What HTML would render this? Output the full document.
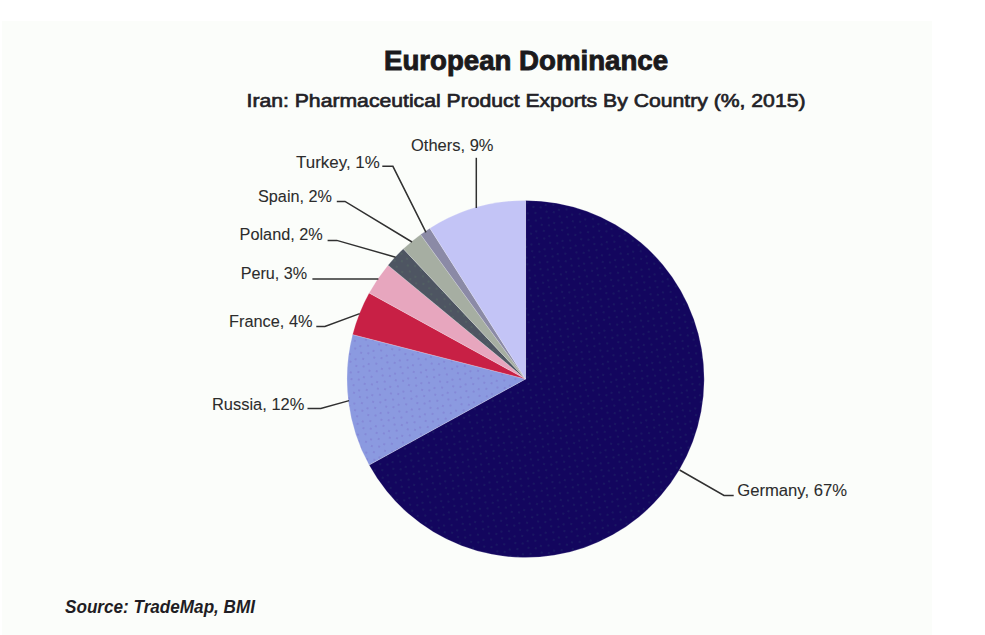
<!DOCTYPE html>
<html><head><meta charset="utf-8"><style>
html,body{margin:0;padding:0;background:#fff;}
body{width:985px;height:635px;overflow:hidden;position:relative;}
svg{position:absolute;left:0;top:0;}
</style></head><body>
<svg width="985" height="635" viewBox="0 0 985 635">
<rect x="0" y="0" width="985" height="635" fill="#ffffff"/>
<rect x="2" y="21" width="930" height="614" fill="#fbfdfa"/>
<text x="384" y="69.6" font-family="Liberation Sans, sans-serif" font-weight="bold" font-size="27" fill="#1b1a1c" stroke="#1b1a1c" stroke-width="0.9" textLength="284" lengthAdjust="spacingAndGlyphs">European Dominance</text>
<text x="246.5" y="106.6" font-family="Liberation Sans, sans-serif" font-weight="normal" font-size="18.5" fill="#222126" stroke="#222126" stroke-width="0.65" textLength="559" lengthAdjust="spacingAndGlyphs">Iran: Pharmaceutical Product Exports By Country (%, 2015)</text>
<defs><pattern id="pg" width="14" height="14" patternUnits="userSpaceOnUse" patternTransform="rotate(20)"><rect width="14" height="14" fill="#13065e"/><circle cx="2" cy="3" r="0.7" fill="#28406a" fill-opacity="0.8"/><circle cx="9" cy="6" r="0.7" fill="#28406a" fill-opacity="0.8"/><circle cx="5" cy="10" r="0.7" fill="#28406a" fill-opacity="0.8"/><circle cx="12" cy="12" r="0.7" fill="#28406a" fill-opacity="0.8"/></pattern><pattern id="pr" width="14" height="14" patternUnits="userSpaceOnUse" patternTransform="rotate(20)"><rect width="14" height="14" fill="#8b9ae0"/><circle cx="2" cy="3" r="0.7" fill="#7060c0" fill-opacity="0.8"/><circle cx="9" cy="6" r="0.7" fill="#7060c0" fill-opacity="0.8"/><circle cx="5" cy="10" r="0.7" fill="#7060c0" fill-opacity="0.8"/><circle cx="12" cy="12" r="0.7" fill="#7060c0" fill-opacity="0.8"/></pattern><pattern id="pp" width="14" height="14" patternUnits="userSpaceOnUse" patternTransform="rotate(20)"><rect width="14" height="14" fill="#4e5562"/><circle cx="2" cy="3" r="0.7" fill="#5c7a64" fill-opacity="0.8"/><circle cx="9" cy="6" r="0.7" fill="#5c7a64" fill-opacity="0.8"/><circle cx="5" cy="10" r="0.7" fill="#5c7a64" fill-opacity="0.8"/><circle cx="12" cy="12" r="0.7" fill="#5c7a64" fill-opacity="0.8"/></pattern></defs>
<g>
<path d="M525.6,379.0 L525.60,200.40 A178.6,178.6 0 1 1 369.09,465.04 Z" fill="url(#pg)" stroke="#f4f4f8" stroke-width="0.35" stroke-opacity="0.6"/>
<path d="M525.6,379.0 L369.09,465.04 A178.6,178.6 0 0 1 352.61,334.58 Z" fill="url(#pr)" stroke="#f4f4f8" stroke-width="0.35" stroke-opacity="0.6"/>
<path d="M525.6,379.0 L352.61,334.58 A178.6,178.6 0 0 1 369.09,292.96 Z" fill="#c82045" stroke="#f4f4f8" stroke-width="0.35" stroke-opacity="0.6"/>
<path d="M525.6,379.0 L369.09,292.96 A178.6,178.6 0 0 1 387.99,265.16 Z" fill="#e7a6be" stroke="#f4f4f8" stroke-width="0.35" stroke-opacity="0.6"/>
<path d="M525.6,379.0 L387.99,265.16 A178.6,178.6 0 0 1 403.34,248.81 Z" fill="url(#pp)" stroke="#f4f4f8" stroke-width="0.35" stroke-opacity="0.6"/>
<path d="M525.6,379.0 L403.34,248.81 A178.6,178.6 0 0 1 420.62,234.51 Z" fill="#a6aea2" stroke="#f4f4f8" stroke-width="0.35" stroke-opacity="0.6"/>
<path d="M525.6,379.0 L420.62,234.51 A178.6,178.6 0 0 1 429.90,228.20 Z" fill="#8b8aa6" stroke="#f4f4f8" stroke-width="0.35" stroke-opacity="0.6"/>
<path d="M525.6,379.0 L429.90,228.20 A178.6,178.6 0 0 1 525.60,200.40 Z" fill="#c3c4f6" stroke="#f4f4f8" stroke-width="0.35" stroke-opacity="0.6"/>
</g>
<g fill="none" stroke="#303030" stroke-width="1.5">
<polyline points="476.3,157.8 476.3,208"/>
<polyline points="382.3,166.3 392.9,166.3 426,232.4"/>
<polyline points="336.8,201.4 345,201.4 412,242"/>
<polyline points="327.6,240.4 336.8,240.4 395.6,257.2"/>
<polyline points="312.4,279 378.4,279"/>
<polyline points="316.3,326.5 324.9,326.5 359.7,313.6"/>
<polyline points="307.5,408.4 320.8,408.4 349.1,400.6"/>
<polyline points="679.6,470 724,495.5 733.7,495.5"/>
</g>
<g font-family="Liberation Sans, sans-serif" font-size="16.4" fill="#2c2c2c" stroke="#2c2c2c" stroke-width="0.08">
<text x="411.0" y="151.2" text-anchor="start" textLength="82.5" lengthAdjust="spacingAndGlyphs">Others, 9%</text>
<text x="379.8" y="168.2" text-anchor="end" textLength="83.8" lengthAdjust="spacingAndGlyphs">Turkey, 1%</text>
<text x="332.0" y="201.8" text-anchor="end" textLength="74.0" lengthAdjust="spacingAndGlyphs">Spain, 2%</text>
<text x="322.8" y="240.0" text-anchor="end" textLength="83.2" lengthAdjust="spacingAndGlyphs">Poland, 2%</text>
<text x="307.2" y="279.4" text-anchor="end" textLength="66.5" lengthAdjust="spacingAndGlyphs">Peru, 3%</text>
<text x="312.5" y="327.3" text-anchor="end" textLength="83.5" lengthAdjust="spacingAndGlyphs">France, 4%</text>
<text x="304.3" y="409.6" text-anchor="end" textLength="92.3" lengthAdjust="spacingAndGlyphs">Russia, 12%</text>
<text x="737.2" y="495.9" text-anchor="start" textLength="109.8" lengthAdjust="spacingAndGlyphs">Germany, 67%</text>
</g>
<text x="65" y="612.8" font-family="Liberation Sans, sans-serif" font-weight="bold" font-style="italic" font-size="18.6" fill="#1f1d24" textLength="190" lengthAdjust="spacingAndGlyphs">Source: TradeMap, BMI</text>
</svg>
</body></html>
